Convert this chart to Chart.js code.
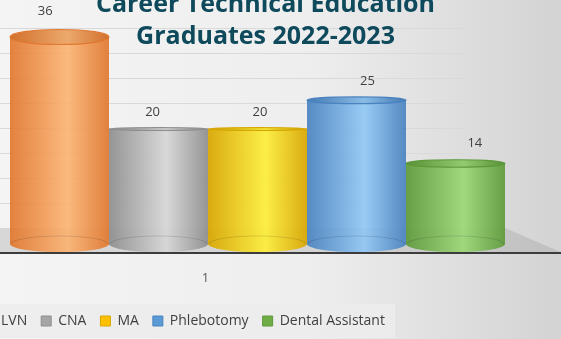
<!DOCTYPE html>
<html>
<head>
<meta charset="utf-8">
<script src="https://cdn.jsdelivr.net/npm/chart.js@4"></script>
<style>
  html, body { margin: 0; padding: 0; width: 561px; height: 339px; overflow: hidden; }
  body { background: linear-gradient(to right, #f4f4f4 0%, #eeeeee 55%, #d3d3d3 100%); }
  #wrap { position: relative; width: 591px; height: 355px; margin-left: -30px; margin-top: -17px; }
</style>
</head>
<body>
<div id="wrap"><canvas id="cte"></canvas></div>
<script>
var categories = ['1'];
var programs = ['LVN', 'CNA', 'MA', 'Phlebotomy', 'Dental Assistant'];
var graduates = [36, 20, 20, 25, 14];
var titleLines = ['Career Technical Education', 'Graduates 2022-2023'];

var legendColors = ['#ed7d31', '#a5a5a5', '#ffc000', '#5b9bd5', '#70ad47'];
// side shading for each cylinder: edge / highlight
var shades = [
    ['#e07830', '#fbb474'],
    ['#8e8e8e', '#d6d6d6'],
    ['#d8a600', '#fdee3a'],
    ['#4a83c0', '#92c8f4'],
    ['#5e9a3b', '#9cd877']
];

var canvas = document.getElementById('cte');
var ctx = canvas.getContext('2d');

function topRadius(chart, y) {
    var eye = chart.scales.y.getPixelForValue(20);
    return 1.5 + Math.abs(y - eye) * 0.065;
}

var cylinders = {
    id: 'cylinders',
    beforeDraw(chart) {
        var c = chart.ctx, area = chart.chartArea, ys = chart.scales.y;
        var y0 = ys.getPixelForValue(0);
        c.save();
        // back wall grid
        c.strokeStyle = '#d9d9d9';
        c.lineWidth = 1;
        ys.ticks.forEach(function(t) {
            if (t.value == 0) return;
            var yb = Math.round(y0 - 16 - (y0 - ys.getPixelForValue(t.value)) * 0.87) + 0.5;
            c.beginPath();
            c.moveTo(area.left - 40, yb);
            c.lineTo(area.right - 40, yb);
            c.stroke();
        });
        // floor
        c.fillStyle = 'rgba(150,150,150,0.3)';
        c.beginPath();
        c.moveTo(0, y0 - 16);
        c.lineTo(area.right, y0 - 16);
        c.lineTo(area.right + 58, y0 + 9);
        c.lineTo(0, y0 + 9);
        c.closePath();
        c.fill();
        // legend backing
        var hb = chart.legend.legendHitBoxes;
        var last = hb[hb.length - 1];
        c.fillStyle = 'rgba(236,236,236,0.85)';
        c.fillRect(0, hb[0].top - 10, last.left + last.width + 10, hb[0].height + 22);
        c.restore();
    },
    beforeDatasetDraw(chart, args) {
        var c = chart.ctx, i = args.index;
        var bar = args.meta.data[0];
        var p = bar.getProps(['x', 'y', 'base', 'width'], true);
        var l = p.x - p.width / 2, r = p.x + p.width / 2, rx = p.width / 2;
        var y0 = p.base, ryB = 8, ryT = topRadius(chart, p.y);
        var g = c.createLinearGradient(l, 0, r, 0);
        g.addColorStop(0, shades[i][0]);
        g.addColorStop(0.58, shades[i][1]);
        g.addColorStop(1, shades[i][0]);
        c.save();
        c.globalAlpha = 0.93;
        c.fillStyle = g;
        c.beginPath();
        c.moveTo(l, p.y);
        c.lineTo(l, y0);
        c.ellipse(p.x, y0, rx, ryB, 0, Math.PI, 0, true);
        c.lineTo(r, p.y);
        c.closePath();
        c.fill();
        c.globalAlpha = 1;
        // back edge of base seen through
        c.strokeStyle = 'rgba(0,0,0,0.12)';
        c.beginPath();
        c.ellipse(p.x, y0, rx - 1, ryB, 0, Math.PI, 0, false);
        c.stroke();
        // top face
        c.fillStyle = g;
        c.beginPath();
        c.ellipse(p.x, p.y, rx, ryT, 0, 0, Math.PI * 2);
        c.fill();
        c.fillStyle = 'rgba(0,0,0,0.06)';
        c.fill();
        c.strokeStyle = shades[i][0];
        c.lineWidth = 1.2;
        c.stroke();
        c.restore();
        return false;
    },
    afterDatasetsDraw(chart) {
        var c = chart.ctx, area = chart.chartArea;
        var mid = area.left + (area.right - area.left) * 0.44;
        var y0 = chart.scales.y.getPixelForValue(0);
        c.save();
        // axis line
        c.strokeStyle = '#3c3c3c';
        c.lineWidth = 2;
        c.beginPath();
        c.moveTo(0, y0 + 9);
        c.lineTo(chart.width, y0 + 9);
        c.stroke();
        // value labels
        c.font = '13px "Open Sans"';
        c.fillStyle = '#404040';
        c.textAlign = 'center';
        c.textBaseline = 'middle';
        chart.data.datasets.forEach(function(ds, i) {
            var bar = chart.getDatasetMeta(i).data[0];
            var ryT = topRadius(chart, bar.y);
            c.fillText(ds.data[0], bar.x + (bar.x - mid) * 0.085, bar.y - 14 - ryT * 1.6);
        });
        c.restore();
    }
};

var datasets = programs.map(function(name, i) {
    return {
        label: name,
        data: [graduates[i]],
        backgroundColor: legendColors[i],
        borderColor: shades[i][0],
        borderWidth: 1
    };
});

var chart = new Chart(ctx, {
    type: 'bar',
    data: { labels: categories, datasets: datasets },
    options: {
        responsive: true,
        maintainAspectRatio: false,
        animation: false,
        categoryPercentage: 1,
        barPercentage: 1,
        layout: { padding: 0 },
        scales: {
            x: {
                grid: { display: false },
                border: { display: false },
                ticks: { padding: 18, labelOffset: -52, color: '#595959', font: { family: 'Open Sans', size: 13 } },
                afterFit: function(s) { s.height = 56; }
            },
            y: {
                min: 0, max: 40,
                ticks: { display: false, stepSize: 5 },
                grid: { display: false },
                border: { display: false },
                afterFit: function(s) { s.width = 40; }
            },
            y2: {
                position: 'right',
                min: 0, max: 1,
                ticks: { display: false },
                grid: { display: false },
                border: { display: false },
                afterFit: function(s) { s.width = 56; }
            }
        },
        plugins: {
            title: {
                display: true,
                text: titleLines,
                color: '#0e4a5c',
                font: { family: 'Open Sans', size: 25, weight: 'bold', lineHeight: 1.28 },
                padding: { top: 6, bottom: -39 }
            },
            legend: {
                position: 'bottom',
                align: 'start',
                labels: {
                    boxWidth: 10,
                    boxHeight: 10,
                    padding: 14,
                    color: '#404040',
                    font: { family: 'Open Sans', size: 14 }
                }
            },
            tooltip: { enabled: false }
        }
    },
    plugins: [cylinders]
});
</script>
</body>
</html>
